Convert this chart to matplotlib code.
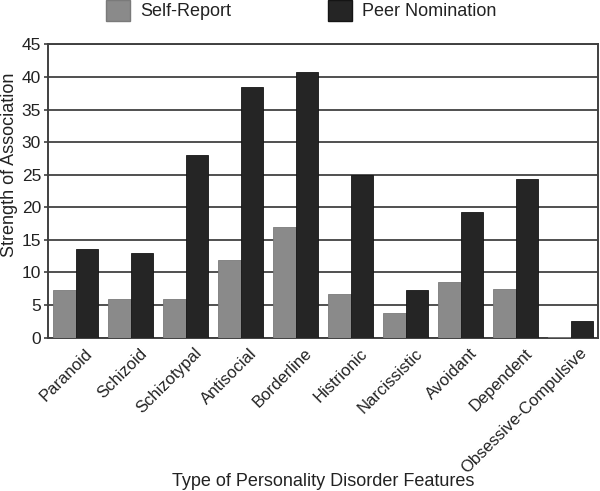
import matplotlib
matplotlib.use("Agg")
import matplotlib.pyplot as plt
import numpy as np
from matplotlib.patches import Patch

categories = ["Paranoid", "Schizoid", "Schizotypal", "Antisocial", "Borderline",
              "Histrionic", "Narcissistic", "Avoidant", "Dependent", "Obsessive-Compulsive"]
self_report = [7.3, 5.9, 5.9, 11.9, 17.0, 6.7, 3.7, 8.5, 7.5, 0.1]
peer_nomination = [13.6, 13.0, 28.0, 38.5, 40.8, 25.0, 7.3, 19.3, 24.3, 2.6]
yticks = [0, 5, 10, 15, 20, 25, 30, 35, 40, 45]

plt.rcParams['font.family'] = ['Liberation Sans', 'DejaVu Sans']

W, H = 600, 491
fig = plt.figure(figsize=(6, 4.91), dpi=100)
L, R, T, B = 48, 598, 44.5, 337.5
ax = fig.add_axes([L / W, 1 - B / H, (R - L) / W, (B - T) / H])

x = np.arange(len(categories))
w = 0.41
c_self = "#8a8a8a"
c_peer = "#252525"
ax.bar(x - w/2, self_report, w, color=c_self, edgecolor="#7a7a7a", linewidth=0.6, zorder=3)
ax.bar(x + w/2, peer_nomination, w, color=c_peer, edgecolor="#151515", linewidth=0.6, zorder=3)

ax.set_xlim(-0.5, len(categories) - 0.5)
ax.set_ylim(0, 45)
ax.set_yticks(yticks)
ax.yaxis.grid(True, color="#505050", linewidth=1.4, zorder=0)
ax.set_axisbelow(True)
for s in ax.spines.values():
    s.set_color("#404040")
    s.set_linewidth(1.4)

ax.set_xticks(x)
ax.set_xticklabels([])
ax.tick_params(axis="x", length=0)
for i, cat in enumerate(categories):
    ax.annotate(cat, xy=(x[i], 0), xycoords=("data", "axes fraction"),
                xytext=(9, -8), textcoords="offset pixels",
                rotation=45, ha="right", va="top", rotation_mode="anchor",
                fontsize=12, color="#222222", annotation_clip=False)
ax.tick_params(axis="y", labelsize=12.5, length=3, width=1.2, color="#404040",
               pad=2, labelcolor="#222222")

ax.set_ylabel("Strength of Association", fontsize=13, color="#222222")
ax.yaxis.label.set_va("center")
ax.yaxis.set_label_coords((10 - L) / (R - L), (B - 165) / (B - T))
ax.set_xlabel("Type of Personality Disorder Features", fontsize=13, color="#222222")
ax.xaxis.label.set_va("center")
ax.xaxis.set_label_coords(0.5, (B - 481) / (B - T))

handles = [Patch(facecolor=c_self, edgecolor="#7a7a7a"), Patch(facecolor=c_peer, edgecolor="#151515")]
leg = fig.legend(handles, ["Self-Report", "Peer Nomination"], ncol=2, frameon=False,
                 loc="upper left", bbox_to_anchor=(106 / W, 1.0), fontsize=13,
                 handlelength=1.33, handleheight=1.4, columnspacing=5.4,
                 handletextpad=0.55, borderpad=0, borderaxespad=0)
for t in leg.get_texts():
    t.set_color("#222222")

fig.savefig("out.png", dpi=100)
